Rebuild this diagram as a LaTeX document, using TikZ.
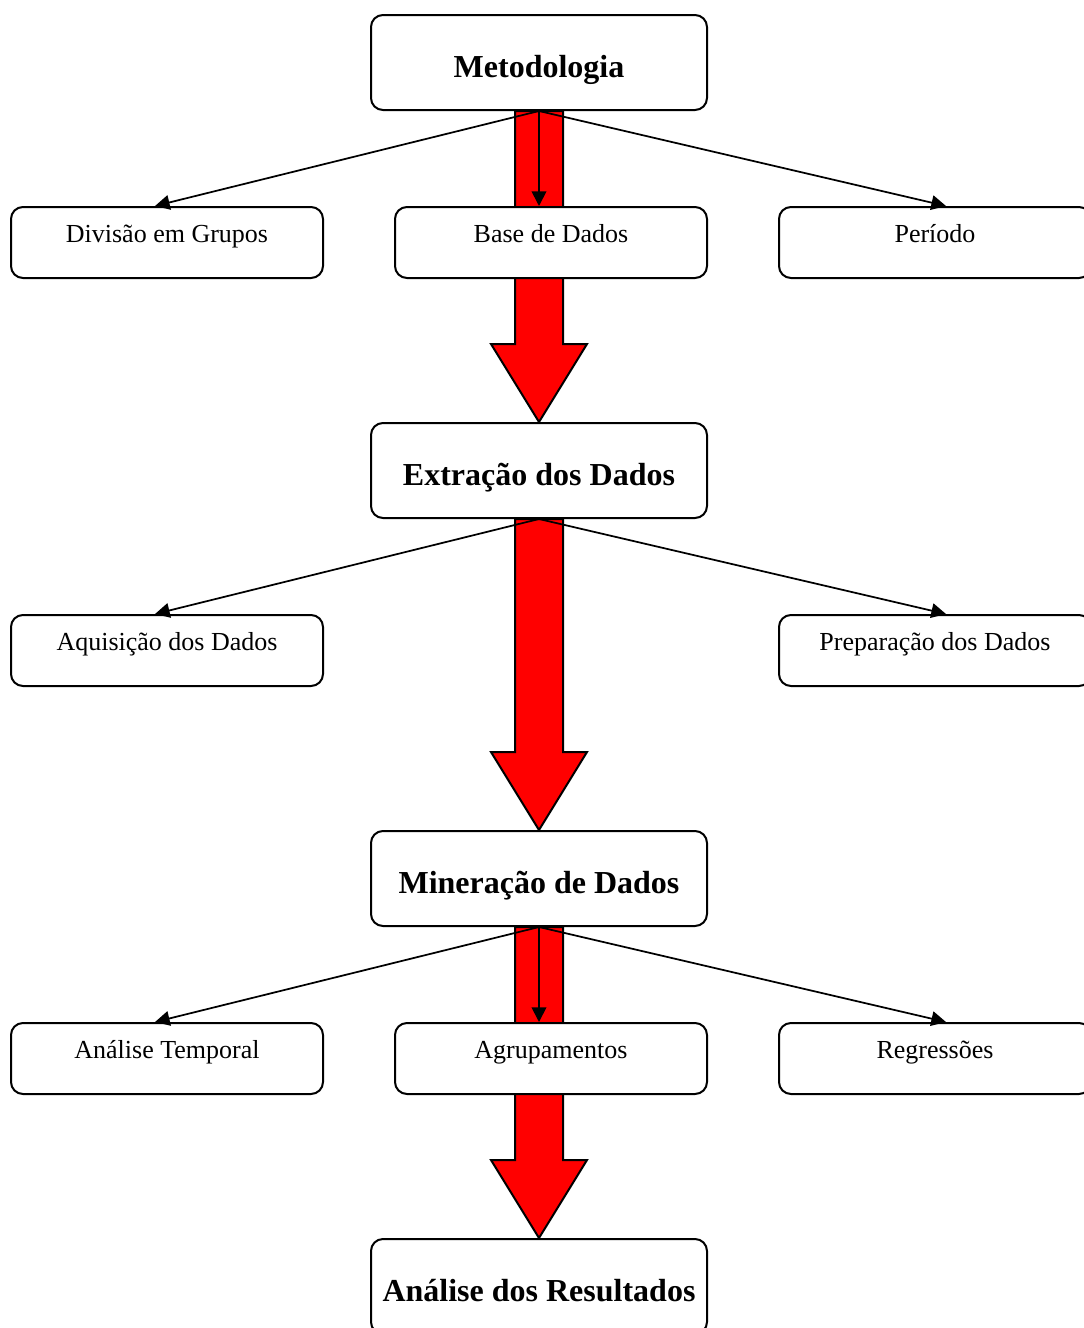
\documentclass[tikz,border=0pt]{standalone}
\usepackage{fontspec}
\setmainfont{Liberation Serif}
\usetikzlibrary{calc}
\usetikzlibrary{positioning}
\usetikzlibrary{arrows.meta}
\usetikzlibrary{backgrounds}
% big red arrow from the bottom of one box to the top of the next
\newcommand*\bigarrow[2]{%
    \filldraw[big arrow]
        ($(#1.south)+(-24,0)$) -- ($(#2.north)+(-24,-78)$)
        -- ($(#2.north)+(-48,-78)$) -- (#2.north)
        -- ($(#2.north)+(48,-78)$) -- ($(#2.north)+(24,-78)$)
        -- ($(#1.south)+(24,0)$) -- cycle;%
}
\begin{document}
\begin{tikzpicture}
    [%
        x=0.75pt,y=-0.75pt,%
        main box/.style={%
            draw,%
            fill=white,%
            line width=1.5pt,%
            rounded corners=9pt,%
            anchor=north,%
            inner sep=0pt,%
            minimum width=252pt,%
            text height=46.5pt,%
            text depth=24.75pt,%
            font=\fontsize{24}{28}\selectfont\bfseries%
        },%
        sub box/.style={%
            draw,%
            fill=white,%
            line width=1.5pt,%
            rounded corners=9pt,%
            anchor=north,%
            inner sep=0pt,%
            minimum width=234pt,%
            text height=26.25pt,%
            text depth=27pt,%
            font=\fontsize{19.5}{23}\selectfont%
        },%
        thin arrow/.style={%
            line width=1.3pt,%
            -{Triangle[length=11pt,width=11pt]}%
        },%
        big arrow/.style={%
            fill=red,%
            draw=black,%
            line width=1.5pt,%
            line join=miter%
        }%
    ]%
    \useasboundingbox (0,0) rectangle (1084,1328);
%
    % main steps
    \node[main box] (metodologia) at (539,14) {Metodologia};
    \node[main box] (extracao) at (539,422) {Extração dos Dados};
    \node[main box] (mineracao) at (539,830) {Mineração de Dados};
    \node[main box] (analise) at (539,1238) {Análise dos Resultados};
%
    % sub steps
    % \name node name, \x/\y top centre, \txt label
    \foreach \name/\x/\y/\txt in {%
        divisao/167/206/Divisão em Grupos,%
        base/551/206/Base de Dados,%
        periodo/935/206/Período,%
        aquisicao/167/614/Aquisição dos Dados,%
        preparacao/935/614/Preparação dos Dados,%
        temporal/167/1022/Análise Temporal,%
        agrupamentos/551/1022/Agrupamentos,%
        regressoes/935/1022/Regressões%
    }
        \node[sub box] (\name) at (\x,\y) {\txt};
%
    % red arrows behind the boxes
    \begin{pgfonlayer}{background}
        \bigarrow{metodologia}{extracao}
        \bigarrow{extracao}{mineracao}
        \bigarrow{mineracao}{analise}
    \end{pgfonlayer}
%
    % arrows from each step to its sub steps
    % \from step, \to sub step, \dx shift of the arrow end
    \foreach \from/\to/\dx in {%
        metodologia/divisao/-12,%
        metodologia/periodo/11,%
        extracao/aquisicao/-12,%
        extracao/preparacao/11,%
        mineracao/temporal/-12,%
        mineracao/regressoes/11%
    }{
        \draw[thin arrow] (\from.south) -- ($(\to.north)+(\dx,0)$);
    } % \foreach \from/\to/\dx
    \draw[thin arrow] (metodologia.south) -- (metodologia.south |- base.north);
    \draw[thin arrow] (mineracao.south) -- (mineracao.south |- agrupamentos.north);
\end{tikzpicture}
\end{document}
